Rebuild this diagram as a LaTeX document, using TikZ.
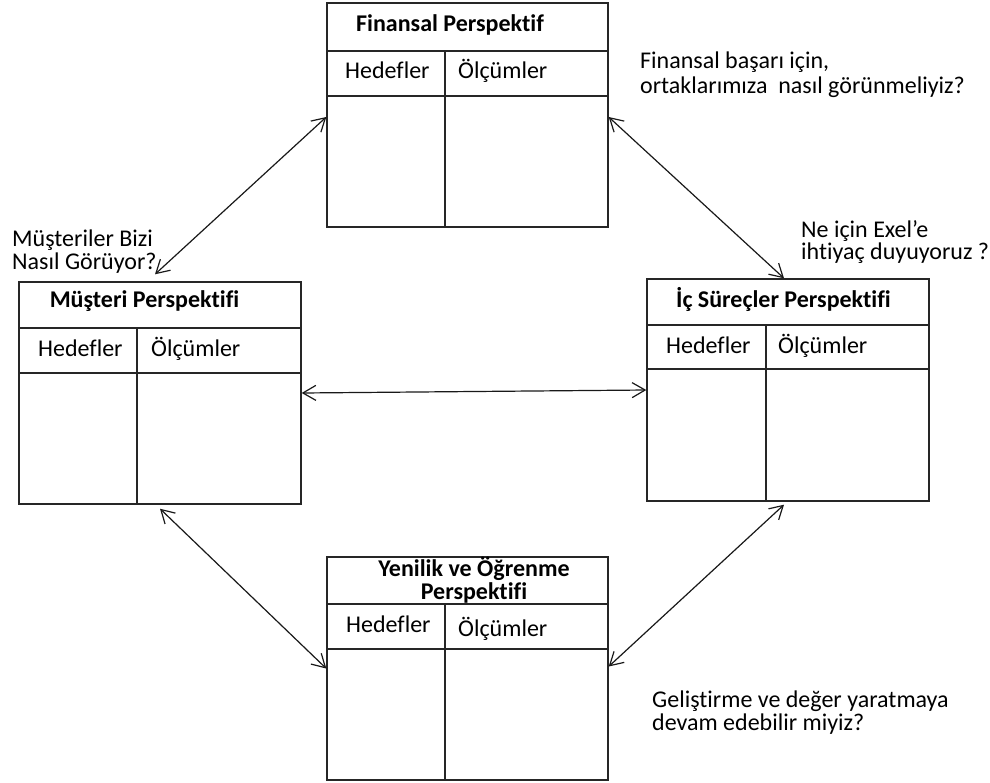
\documentclass[tikz,border=0pt]{standalone}
\usepackage{fontspec}
\setmainfont{Carlito}[Ligatures={NoCommon}]
\usetikzlibrary{arrows.meta}

\tikzset{
  panel/.style={draw=black!85, line width=1.4pt, inner sep=0pt, fill=white},
  rule/.style={draw=black!85, line width=1.4pt},
  txt/.style={inner sep=0pt, anchor=base west, font=\fontsize{24}{24}\selectfont},
  ttl/.style={inner sep=0pt, anchor=base, font=\fontsize{24}{23}\selectfont\bfseries, align=center},
  note/.style={inner sep=0pt, anchor=base west, align=left},
  link/.style={draw=black!90, line width=1.2pt, {Straight Barb[length=13pt,width=15pt,line width=1.2pt]}-{Straight Barb[length=13pt,width=15pt,line width=1.2pt]}}
}

\begin{document}
\begin{tikzpicture}[x=1pt, y=-1pt]
\useasboundingbox (0,0) rectangle (990,782);

% ---- Finansal Perspektif (top) ----
\node[panel, minimum width=281pt, minimum height=224pt] (fin) at (467.5,115) {};
\draw[rule] (327,51) -- (608,51);
\draw[rule] (327,96) -- (608,96);
\draw[rule] (445,51) -- (445,227);
\node[ttl] (finT) at (450,31) {Finansal Perspektif};
\node[txt] (finH) at (345,78) {Hedefler};
\node[txt] (finO) at (458,78) {Ölçümler};

% ---- Müşteri Perspektifi (left) ----
\node[panel, minimum width=282pt, minimum height=222pt] (mus) at (160,393) {};
\draw[rule] (19,328) -- (301,328);
\draw[rule] (19,373) -- (301,373);
\draw[rule] (137,328) -- (137,504);
\node[ttl] (musT) at (144.5,307) {Müşteri Perspektifi};
\node[txt] (musH) at (38,356) {Hedefler};
\node[txt] (musO) at (151,356) {Ölçümler};

% ---- İç Süreçler Perspektifi (right) ----
\node[panel, minimum width=282pt, minimum height=222pt] (ic) at (788,390) {};
\draw[rule] (647,325) -- (929,325);
\draw[rule] (647,369) -- (929,369);
\draw[rule] (766,325) -- (766,501);
\node[ttl] (icT) at (783.5,307) {İç Süreçler Perspektifi};
\node[txt] (icH) at (666,353) {Hedefler};
\node[txt] (icO) at (778,353) {Ölçümler};

% ---- Yenilik ve Öğrenme Perspektifi (bottom) ----
\node[panel, minimum width=281pt, minimum height=223pt] (yen) at (467.5,668.5) {};
\draw[rule] (327,604) -- (608,604);
\draw[rule] (327,649) -- (608,649);
\draw[rule] (445,604) -- (445,780);
\node[ttl] (yenT) at (474,599) {Yenilik ve Öğrenme\\Perspektifi};
\node[txt] (yenH) at (346,632) {Hedefler};
\node[txt] (yenO) at (458,636) {Ölçümler};

% ---- connectors ----
\draw[link] ([yshift=-2pt]fin.west) -- ([xshift=-5pt,yshift=7pt]mus.north);
\draw[link] ([yshift=-2pt]fin.east) -- ([xshift=-4pt]ic.north);
\draw[link] (mus.east) -- (ic.west);
\draw[link] ([yshift=-4pt]mus.south) -- (yen.west);
\draw[link] ([xshift=-4pt,yshift=-3pt]ic.south) -- ([yshift=2pt]yen.east);

% ---- questions (anchored on the baseline of their last line) ----
\node[note, font=\fontsize{24}{25}\selectfont] (q1) at (640,93) {Finansal başarı için,\\ortaklarımıza\ \ nasıl görünmeliyiz?};
\node[note, font=\fontsize{24}{23}\selectfont] (q2) at (12,269) {Müşteriler Bizi\\Nasıl Görüyor?};
\node[note, font=\fontsize{24}{22}\selectfont] (q3) at (801,259) {Ne için Exel’e\\ihtiyaç duyuyoruz ?};
\node[note, font=\fontsize{24}{23}\selectfont] (q4) at (652,730) {Geliştirme ve değer yaratmaya\\devam edebilir miyiz?};
\end{tikzpicture}
\end{document}
